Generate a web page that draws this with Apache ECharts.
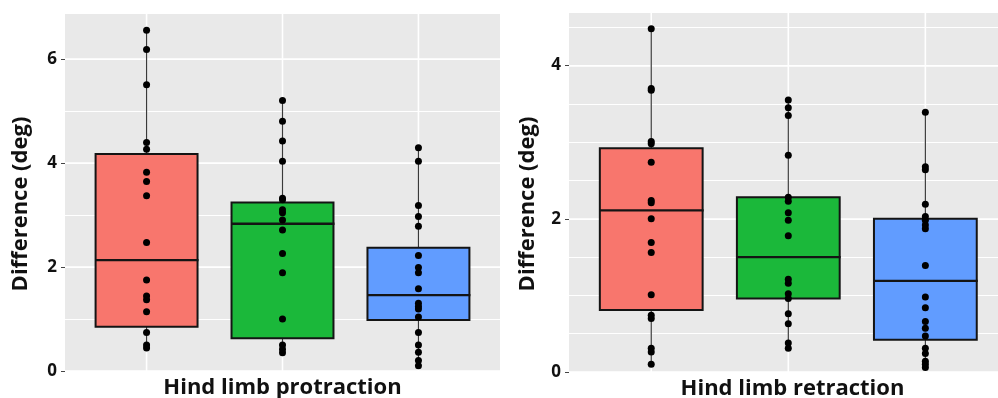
<!DOCTYPE html>
<html><head><meta charset="utf-8">
<script src="https://cdn.jsdelivr.net/npm/echarts@6/dist/echarts.min.js"></script>
<style>html,body{margin:0;padding:0;background:#fff}#c{width:998px;height:398px}</style>
</head><body><div id="c"></div>
<script>
// ---- data ----
const groupPos = [1, 2, 3];
const groupColors = ['#F8766D', '#1BB83A', '#619CFF'];

// Hind limb protraction: individual points
const proRed   = [6.55, 6.18, 5.50, 4.39, 4.26, 3.82, 3.64, 3.37, 2.47, 1.75, 1.44, 1.37, 1.14, 0.74, 0.50, 0.44];
const proGreen = [5.20, 4.80, 4.42, 4.03, 3.32, 3.29, 3.10, 3.04, 2.90, 2.71, 2.26, 1.89, 1.00, 0.50, 0.42, 0.35];
const proBlue  = [4.29, 4.03, 3.18, 2.97, 2.78, 2.22, 1.99, 1.89, 1.58, 1.30, 1.24, 1.19, 1.04, 0.74, 0.50, 0.36, 0.20, 0.10];
// box stats [min, q1, median, q3, max]
const proBoxRed   = [0.44, 0.85, 2.13, 4.17, 6.55];
const proBoxGreen = [0.35, 0.63, 2.83, 3.24, 5.20];
const proBoxBlue  = [0.10, 0.98, 1.46, 2.37, 4.29];

// Hind limb retraction
const retRed   = [4.48, 3.70, 3.68, 3.01, 2.98, 2.74, 2.24, 2.21, 2.00, 1.69, 1.56, 1.01, 0.74, 0.70, 0.31, 0.26, 0.10];
const retGreen = [3.55, 3.45, 3.35, 2.83, 2.28, 2.23, 2.08, 1.98, 1.78, 1.21, 1.16, 1.02, 0.96, 0.76, 0.63, 0.38, 0.31];
const retBlue  = [3.39, 2.68, 2.64, 2.19, 2.03, 1.98, 1.92, 1.87, 1.39, 0.98, 0.84, 0.66, 0.57, 0.47, 0.31, 0.24, 0.14, 0.10, 0.06];
const retBoxRed   = [0.10, 0.81, 2.11, 2.92, 4.48];
const retBoxGreen = [0.31, 0.96, 1.50, 2.28, 3.55];
const retBoxBlue  = [0.06, 0.42, 1.19, 2.00, 3.39];

const proTicks = [0, 2, 4, 6];
const retTicks = [0, 2, 4];
const xTitles = ['Hind limb protraction', 'Hind limb retraction'];
const yTitle = 'Difference (deg)';

// ---- chart ----
const FONT = '"Open Sans", "DejaVu Sans", sans-serif';
const BOX_W = 0.75;

function renderBox(params, api) {
  const x = api.value(0);
  const mn = api.value(1), q1 = api.value(2), md = api.value(3), q3 = api.value(4), mx = api.value(5);
  const cs = params.coordSys;
  const pTL = api.coord([x - BOX_W / 2, q3]);
  const pBR = api.coord([x + BOX_W / 2, q1]);
  const pMax = api.coord([x, mx]);
  const pMin = api.coord([x, mn]);
  const pMd = api.coord([x, md]);
  const color = groupColors[params.dataIndex];
  return {
    type: 'group',
    children: [
      {type: 'line', shape: {x1: pMax[0], y1: cs.y, x2: pMax[0], y2: cs.y + cs.height}, style: {stroke: '#ffffff', lineWidth: 1.6}},
      {type: 'line', shape: {x1: pMax[0], y1: pMax[1], x2: pMax[0], y2: pTL[1]}, style: {stroke: '#3a3a3a', lineWidth: 1.2}},
      {type: 'line', shape: {x1: pMin[0], y1: pBR[1], x2: pMin[0], y2: pMin[1]}, style: {stroke: '#3a3a3a', lineWidth: 1.2}},
      {type: 'rect', shape: {x: pTL[0], y: pTL[1], width: pBR[0] - pTL[0], height: pBR[1] - pTL[1]}, style: {fill: color, stroke: '#141414', lineWidth: 2}},
      {type: 'line', shape: {x1: pTL[0], y1: pMd[1], x2: pBR[0] + 1, y2: pMd[1]}, style: {stroke: '#141414', lineWidth: 2.3}}
    ]
  };
}

function pts(pos, arr) { return arr.map(v => [pos, v]); }

function yAxes(gridIndex, max, majorTicks, minorInterval) {
  return [
    {
      type: 'value', gridIndex, min: 0, max, interval: 2,
      name: yTitle, nameLocation: 'middle', nameGap: gridIndex === 0 ? 33 : 30,
      nameTextStyle: {fontFamily: FONT, fontWeight: 'bold', fontSize: 22, color: '#111', padding: [0, 24, 0, 0]},
      axisLine: {show: false},
      axisTick: {show: true, length: 4, lineStyle: {color: '#444', width: 1}, customValues: majorTicks},
      axisLabel: {show: true, margin: 8, fontFamily: FONT, fontWeight: 'bold', fontSize: 17, color: '#111',
                  customValues: majorTicks,
                  formatter: v => (majorTicks.indexOf(v) >= 0 ? String(v) : '')},
      splitLine: {show: true, lineStyle: {color: '#ffffff', width: 1.6}}
    },
    {
      type: 'value', gridIndex, min: 0, max, interval: minorInterval,
      axisLine: {show: false}, axisTick: {show: false}, axisLabel: {show: false},
      splitLine: {show: true, lineStyle: {color: '#ffffff', width: 1}}
    }
  ];
}

const chart = echarts.init(document.getElementById('c'), null, {renderer: 'canvas'});
const option = {
  animation: false,
  backgroundColor: '#ffffff',
  grid: [
    {left: 65, top: 13, width: 435, height: 358, show: true, backgroundColor: '#E9E9E9', borderWidth: 0,
     containLabel: false, outerBoundsMode: 'none'},
    {left: 569, top: 12, right: 0, height: 360, show: true, backgroundColor: '#E9E9E9', borderWidth: 0,
     containLabel: false, outerBoundsMode: 'none'}
  ],
  xAxis: [
    {type: 'value', gridIndex: 0, min: 0.4, max: 3.6, axisLine: {show: false}, axisTick: {show: false},
     axisLabel: {show: false}, splitLine: {show: false},
     name: xTitles[0], nameLocation: 'middle', nameGap: 6,
     nameTextStyle: {fontFamily: FONT, fontWeight: 'bold', fontSize: 22, color: '#111', verticalAlign: 'top'}},
    {type: 'value', gridIndex: 1, min: 0.4, max: 3.53, axisLine: {show: false}, axisTick: {show: false},
     axisLabel: {show: false}, splitLine: {show: false},
     name: xTitles[1], nameLocation: 'middle', nameGap: 6,
     nameTextStyle: {fontFamily: FONT, fontWeight: 'bold', fontSize: 22, color: '#111', verticalAlign: 'top', padding: [0, 0, 0, 18]}}
  ],
  yAxis: [].concat(yAxes(0, 6.88, proTicks, 1), yAxes(1, 4.70, retTicks, 0.5)),
  series: [
    {type: 'custom', xAxisIndex: 0, yAxisIndex: 0, z: 2, renderItem: renderBox, clip: false,
     data: [proBoxRed, proBoxGreen, proBoxBlue].map((s, i) => [groupPos[i]].concat(s))},
    {type: 'custom', xAxisIndex: 1, yAxisIndex: 2, z: 2, renderItem: renderBox, clip: false,
     data: [retBoxRed, retBoxGreen, retBoxBlue].map((s, i) => [groupPos[i]].concat(s))},
    {type: 'scatter', xAxisIndex: 0, yAxisIndex: 0, z: 5, symbolSize: 7, itemStyle: {color: '#000', opacity: 1},
     data: [].concat(pts(groupPos[0], proRed), pts(groupPos[1], proGreen), pts(groupPos[2], proBlue))},
    {type: 'scatter', xAxisIndex: 1, yAxisIndex: 2, z: 5, symbolSize: 7, itemStyle: {color: '#000', opacity: 1},
     data: [].concat(pts(groupPos[0], retRed), pts(groupPos[1], retGreen), pts(groupPos[2], retBlue))}
  ]
};
chart.setOption(option);
</script>
</body></html>
